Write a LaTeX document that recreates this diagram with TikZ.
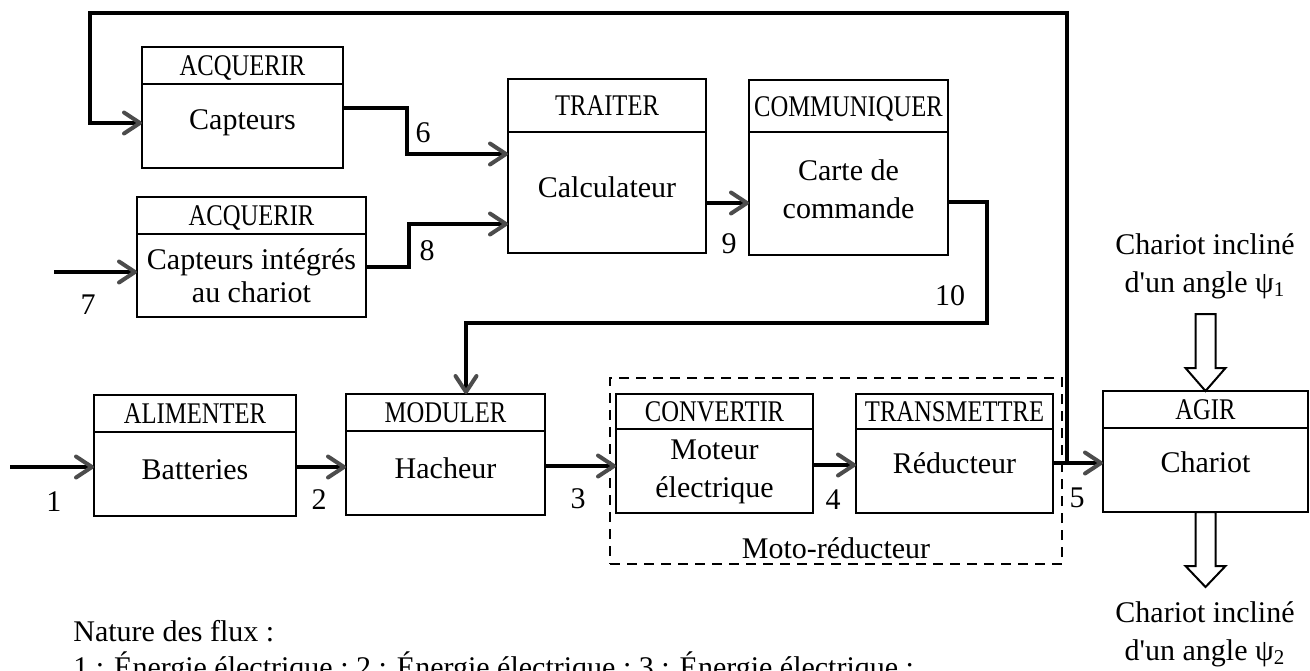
\documentclass[tikz,border=0pt]{standalone}
\usepackage{fontspec}
\setmainfont{Liberation Serif}
\newfontfamily\hdfont{Liberation Serif}[FakeStretch=0.82]
\usetikzlibrary{arrows.meta,calc}

\tikzset{
  blockbox/.style={draw, line width=1pt, inner sep=0pt, outer sep=0pt, rectangle},
  divider/.style={line width=1pt},
  headtext/.style={font=\hdfont\fontsize{15}{19}\selectfont, inner sep=0pt, text height=10pt, text depth=0pt},
  bodytext/.style={font=\fontsize{15}{19}\selectfont, inner sep=0pt, align=center},
  lbl/.style={font=\fontsize{15}{19}\selectfont, inner sep=0pt},
  flow/.style={line width=2pt, -{Straight Barb[length=8pt,width=10.5pt,round,color=black!70]}},
  groupbox/.style={draw, line width=1pt, dash pattern=on 5pt off 3.5pt, inner sep=0pt, outer sep=0pt},
  hollow/.style={draw, line width=1pt, fill=white, line join=miter},
}

% function block: name, x1, y1, x2, y2, y of divider, y of body text, title, body
\newcommand\fblock[9]{%
  \node[blockbox, minimum width={(#4-#2)*0.5pt}, minimum height={(#5-#3)*0.5pt}]
    (#1) at ({(#2+#4)/2},{(#3+#5)/2}) {};
  \draw[divider] (#1.west |- 0,#6) -- (#1.east |- 0,#6);
  \node[headtext] (#1-head) at ({(#2+#4)/2},{(#3+#6)/2}) {#8};
  \node[bodytext] (#1-body) at ({(#2+#4)/2},#7) {#9};
}

\begin{document}
\begin{tikzpicture}[x=0.5pt, y=-0.5pt]
\useasboundingbox (0,0) rectangle (1310,670);
\fill[white] (0,0) rectangle (1310,670);

% blocks
\fblock{acq1}{142}{47}{343}{168}{84}{123}{ACQUERIR}{Capteurs}
\fblock{acq2}{137}{197}{366}{317}{234}{276}{ACQUERIR}{Capteurs intégrés\\[-2.5pt]au chariot}
\fblock{traiter}{508}{79}{706}{253}{132}{187}{TRAITER}{Calculateur}
\fblock{comm}{749}{80}{948}{255}{132}{189}{COMMUNIQUER}{Carte de\\commande}
\fblock{alim}{94}{395}{296}{516}{432}{470}{ALIMENTER}{Batteries}
\fblock{mod}{346}{394}{545}{515}{431}{468}{MODULER}{Hacheur}
\fblock{conv}{616}{394}{813}{513}{429}{472}{CONVERTIR}{Moteur\\électrique}
\fblock{trans}{856}{394}{1053}{513}{429}{463}{TRANSMETTRE}{Réducteur}
\fblock{agir}{1103}{391}{1308}{512}{428}{462}{AGIR}{Chariot}

% motor + gearbox group
\node[groupbox, minimum width=226pt, minimum height=93pt] (moto) at (836,471) {};
\node[lbl] (motolbl) at (moto.south |- 0,548) {Moto-réducteur};

% power chain
\coordinate (in1) at (10,467);
\draw[flow] (in1) -- (alim.west |- in1);
\draw[flow] (alim.east |- 0,467) -- (mod.west |- 0,467);
\draw[flow] (mod.east |- 0,466) -- (conv.west |- 0,466);
\draw[flow] (conv.east |- 0,465) -- (trans.west |- 0,465);
\draw[flow] (trans.east |- 0,463) -- (agir.west |- 0,463);

% feedback from the output to the sensors
\coordinate (j5) at (1067,463);
\coordinate (fbR) at (1067,13);
\coordinate (fbL) at (90,13);
\draw[flow] (j5) -- (fbR) -- (fbL) |- (acq1.west |- 0,123);

% information chain
\coordinate (k6) at (407,108);
\draw[flow] (acq1.east |- k6) -- (k6) |- (traiter.west |- 0,154);
\coordinate (in7) at (54,272);
\draw[flow] (in7) -- (acq2.west |- in7);
\coordinate (k8) at (409,267);
\draw[flow] (acq2.east |- k8) -- (k8) |- (traiter.west |- 0,224);
\draw[flow] (traiter.east |- 0,203) -- (comm.west |- 0,203);
\coordinate (k10) at (987,202);
\coordinate (h10) at (987,323);
\draw[flow] (comm.east |- k10) -- (k10) -- (h10) -| (mod.north -| 466,0);

% flow numbers
\node[lbl] (n1) at (54,502) {1};
\node[lbl] (n2) at (319,500) {2};
\node[lbl] (n3) at (578,499) {3};
\node[lbl] (n4) at (833,500) {4};
\node[lbl] (n5) at (1077,498) {5};
\node[lbl] (n6) at (423,133) {6};
\node[lbl] (n7) at (88,305) {7};
\node[lbl] (n8) at (427,251) {8};
\node[lbl] (n9) at (729,244) {9};
\node[lbl] (n10) at (950,296) {10};

% material in / out of the trolley
\draw[hollow, shift={(agir.north)}] (-10,-77) -- (-10,-23) -- (-20,-23) -- (0,0)
  -- (20,-23) -- (10,-23) -- (10,-77) -- cycle;
\draw[hollow, shift={(agir.south)}] (-10,0) -- (-10,54) -- (-20,54) -- (0,75)
  -- (20,54) -- (10,54) -- (10,0) -- cycle;
\node[bodytext] (psi1) at (1205,266) {Chariot incliné\\d\textquotesingle un angle ψ\textsubscript{1}};
\node[bodytext] (psi2) at (1205,634) {Chariot incliné\\d\textquotesingle un angle ψ\textsubscript{2}};

% legend
\node[lbl, anchor=base west] (nat) at (73,641) {Nature des flux :};
\node[lbl, anchor=base west] (flux) at (73,677) {1 : Énergie électrique ; 2 : Énergie électrique ; 3 : Énergie électrique ;};
\end{tikzpicture}
\end{document}
